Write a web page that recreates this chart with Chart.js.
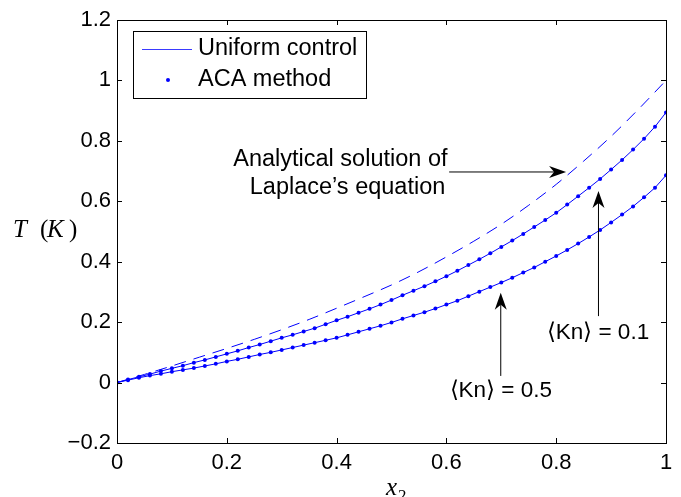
<!DOCTYPE html>
<html>
<head>
<meta charset="utf-8">
<script src="https://cdn.jsdelivr.net/npm/chart.js@4.4.1/dist/chart.umd.min.js"></script>
<style>
  html, body { margin: 0; padding: 0; background: #fff; }
</style>
</head>
<body>
<canvas id="tempChart" width="681" height="497"></canvas>
<script>
// x positions of the computed points
const xPoints = [0, 0.02, 0.04, 0.06, 0.08, 0.1, 0.12, 0.14, 0.16, 0.18,
  0.2, 0.22, 0.24, 0.26, 0.28, 0.3, 0.32, 0.34, 0.36, 0.38,
  0.4, 0.42, 0.44, 0.46, 0.48, 0.5, 0.52, 0.54, 0.56, 0.58,
  0.6, 0.62, 0.64, 0.66, 0.68, 0.7, 0.72, 0.74, 0.76, 0.78,
  0.8, 0.82, 0.84, 0.86, 0.88, 0.9, 0.92, 0.94, 0.96, 0.98, 1];

// <Kn> = 0.1
const tempKn01 = [0, 0.010, 0.019, 0.028, 0.038, 0.047, 0.056, 0.066, 0.075, 0.085,
  0.095, 0.105, 0.116, 0.126, 0.137, 0.148, 0.158, 0.169, 0.180, 0.193,
  0.206, 0.218, 0.231, 0.244, 0.258, 0.273, 0.289, 0.304, 0.319, 0.335,
  0.352, 0.370, 0.389, 0.408, 0.428, 0.449, 0.470, 0.492, 0.515, 0.538,
  0.562, 0.589, 0.617, 0.645, 0.674, 0.705, 0.737, 0.771, 0.807, 0.847, 0.894];

// <Kn> = 0.5
const tempKn05 = [0, 0.008, 0.016, 0.023, 0.029, 0.036, 0.042, 0.048, 0.055, 0.062,
  0.070, 0.077, 0.085, 0.093, 0.100, 0.108, 0.116, 0.124, 0.132, 0.140,
  0.148, 0.158, 0.168, 0.178, 0.188, 0.199, 0.211, 0.222, 0.233, 0.245,
  0.258, 0.271, 0.286, 0.301, 0.316, 0.331, 0.347, 0.364, 0.381, 0.400,
  0.419, 0.439, 0.460, 0.482, 0.505, 0.530, 0.556, 0.583, 0.613, 0.645, 0.686];

// analytical solution of Laplace's equation
const xExact = [0, 0.05, 0.1, 0.15, 0.2, 0.25, 0.3, 0.35, 0.4, 0.45, 0.5,
  0.55, 0.6, 0.65, 0.7, 0.75, 0.8, 0.85, 0.9, 0.95, 1];
const tempExact = [0, 0.027, 0.055, 0.084, 0.113, 0.143, 0.175, 0.209, 0.246, 0.284, 0.323,
  0.367, 0.416, 0.468, 0.524, 0.587, 0.656, 0.733, 0.815, 0.905, 1];

// tick labels
const xTickValues = [0, 0.2, 0.4, 0.6, 0.8, 1];
const yTickValues = [-0.2, 0, 0.2, 0.4, 0.6, 0.8, 1, 1.2];

const blue = '#0000ff';
const sans = '"Liberation Sans", Arial, Helvetica, sans-serif';
const serif = '"Liberation Serif", "Times New Roman", serif';

function toPoints(xs, ys) {
  return xs.map(function (x, i) { return { x: x, y: ys[i] }; });
}

function tickText(v) {
  return String(+v.toFixed(1)).replace('-', '\u2212');
}

// filled arrow head, MATLAB style
function drawArrow(ctx, x1, y1, x2, y2) {
  const ang = Math.atan2(y2 - y1, x2 - x1);
  const len = 17, half = 6, notch = 12;
  ctx.beginPath();
  ctx.moveTo(x1, y1);
  ctx.lineTo(x2 - Math.cos(ang) * notch, y2 - Math.sin(ang) * notch);
  ctx.stroke();
  ctx.save();
  ctx.translate(x2, y2);
  ctx.rotate(ang);
  ctx.beginPath();
  ctx.moveTo(0, 0);
  ctx.lineTo(-len, -half);
  ctx.lineTo(-notch, 0);
  ctx.lineTo(-len, half);
  ctx.closePath();
  ctx.fill();
  ctx.restore();
}

const extrasPlugin = {
  id: 'extras',
  afterDraw: function (chart) {
    const ctx = chart.ctx;
    const a = chart.chartArea;
    const xs = chart.scales.x, ys = chart.scales.y;
    const px = function (v) { return xs.getPixelForValue(v); };
    const py = function (v) { return ys.getPixelForValue(v); };

    ctx.save();
    // axes box with inward ticks
    ctx.strokeStyle = '#000';
    ctx.lineWidth = 1;
    ctx.strokeRect(a.left + 0.5, a.top + 0.5, a.right - a.left, a.bottom - a.top);
    ctx.beginPath();
    xTickValues.forEach(function (v) {
      const x = Math.round(px(v)) + 0.5;
      ctx.moveTo(x, a.bottom); ctx.lineTo(x, a.bottom - 5);
      ctx.moveTo(x, a.top); ctx.lineTo(x, a.top + 5);
    });
    yTickValues.forEach(function (v) {
      const y = Math.round(py(v)) + 0.5;
      ctx.moveTo(a.left, y); ctx.lineTo(a.left + 5, y);
      ctx.moveTo(a.right, y); ctx.lineTo(a.right - 5, y);
    });
    ctx.stroke();

    // legend
    const lx = a.left + 16, ly = a.top + 11;
    ctx.fillStyle = '#fff';
    ctx.fillRect(lx, ly, 233, 67);
    ctx.strokeRect(lx + 0.5, ly + 0.5, 233, 67);
    ctx.strokeStyle = '#3a3aff';
    ctx.lineWidth = 1.2;
    ctx.beginPath();
    ctx.moveTo(lx + 9, ly + 18.5); ctx.lineTo(lx + 59, ly + 18.5);
    ctx.stroke();
    ctx.lineWidth = 1;
    ctx.fillStyle = blue;
    ctx.beginPath();
    ctx.arc(lx + 35, ly + 49, 2, 0, Math.PI * 2);
    ctx.fill();
    ctx.fillStyle = '#000';
    ctx.font = '23.5px ' + sans;
    ctx.textAlign = 'left';
    ctx.textBaseline = 'middle';
    ctx.fillText('Uniform control', lx + 65, ly + 18);
    ctx.fillText('ACA method', lx + 65, ly + 49);

    // annotations
    ctx.strokeStyle = '#000';
    ctx.fillStyle = '#000';
    ctx.textAlign = 'right';
    ctx.fillText('Analytical solution of', px(0.602), py(0.737));
    ctx.fillText('Laplace\u2019s equation', px(0.598), py(0.645));
    drawArrow(ctx, px(0.605), py(0.697), px(0.818), py(0.697));

    drawArrow(ctx, px(0.877), py(0.22), px(0.877), py(0.634));
    drawArrow(ctx, px(0.699), py(0.022), px(0.699), py(0.297));
    ctx.textAlign = 'center';
    ctx.font = '22.5px ' + sans;
    ctx.fillText('\u27e8Kn\u27e9 = 0.1', px(0.876), py(0.164));
    ctx.fillText('\u27e8Kn\u27e9 = 0.5', px(0.699), py(-0.028));

    // axis titles
    ctx.textAlign = 'left';
    ctx.textBaseline = 'alphabetic';
    ctx.font = 'italic 25px ' + serif;
    ctx.fillText('T', 13, 237);
    ctx.fillText('K', 47, 237);
    ctx.font = '25px ' + serif;
    ctx.fillText('(', 40, 237);
    ctx.fillText(')', 69, 237);

    ctx.font = 'italic 25px ' + serif;
    ctx.fillText('x', 386, 495);
    ctx.font = '17px ' + serif;
    ctx.fillText('2', 398, 501);
    ctx.restore();
  }
};

new Chart(document.getElementById('tempChart'), {
  type: 'line',
  data: {
    datasets: [{
      data: toPoints(xExact, tempExact),
      borderColor: blue,
      borderWidth: 1,
      borderDash: [12, 8],
      pointRadius: 0,
      cubicInterpolationMode: 'monotone',
      fill: false
    }, {
      data: toPoints(xPoints, tempKn01),
      borderColor: blue,
      borderWidth: 1,
      pointRadius: 2,
      pointBorderWidth: 0,
      pointBackgroundColor: blue,
      fill: false
    }, {
      data: toPoints(xPoints, tempKn05),
      borderColor: blue,
      borderWidth: 1,
      pointRadius: 2,
      pointBorderWidth: 0,
      pointBackgroundColor: blue,
      fill: false
    }]
  },
  options: {
    responsive: false,
    animation: false,
    devicePixelRatio: 1,
    layout: { padding: { left: 0, top: 20, right: 15, bottom: 0 } },
    plugins: {
      legend: { display: false },
      tooltip: { enabled: false }
    },
    scales: {
      x: {
        type: 'linear',
        min: 0,
        max: 1,
        grid: { display: false, drawTicks: false },
        border: { display: false },
        afterBuildTicks: function (scale) {
          scale.ticks = xTickValues.map(function (v) { return { value: v }; });
        },
        afterFit: function (scale) { scale.height = 54; },
        ticks: {
          color: '#000',
          padding: 7,
          maxRotation: 0,
          font: { family: sans, size: 22 },
          callback: tickText
        }
      },
      y: {
        type: 'linear',
        min: -0.2,
        max: 1.2,
        grid: { display: false, drawTicks: false },
        border: { display: false },
        afterBuildTicks: function (scale) {
          scale.ticks = yTickValues.map(function (v) { return { value: v }; });
        },
        afterFit: function (scale) { scale.width = 117; },
        ticks: {
          color: '#000',
          padding: 6,
          font: { family: sans, size: 22 },
          callback: tickText
        }
      }
    }
  },
  plugins: [extrasPlugin]
});
</script>
</body>
</html>
